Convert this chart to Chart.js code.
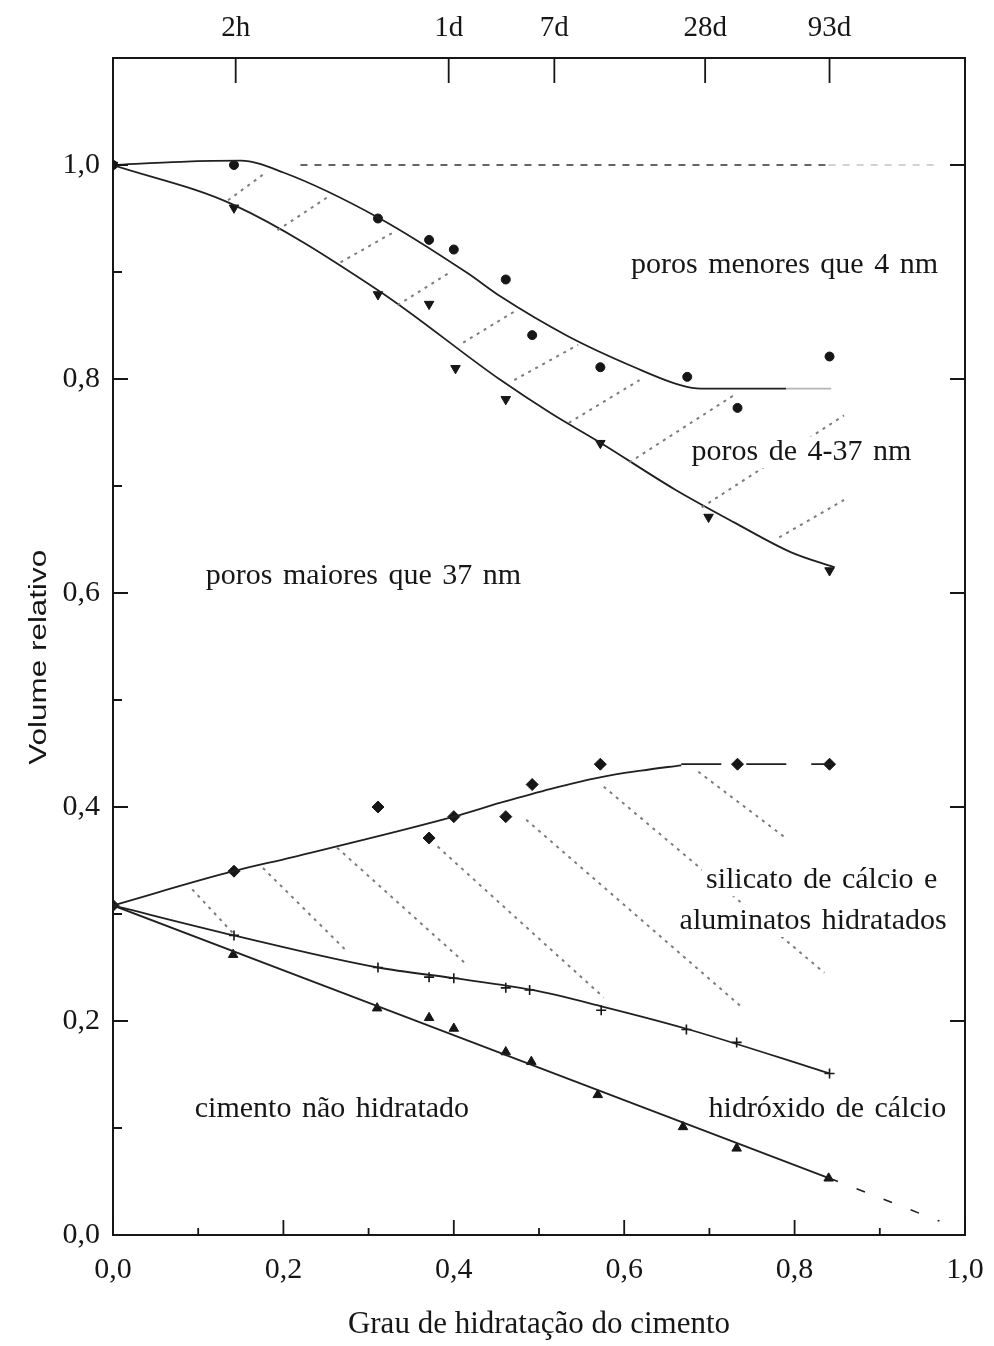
<!DOCTYPE html>
<html>
<head>
<meta charset="utf-8">
<style>
  html, body { margin: 0; padding: 0; background: #ffffff; }
  #wrap { width: 994px; height: 1346px; }
</style>
<script src="https://cdn.jsdelivr.net/npm/chart.js@4.4.1/dist/chart.umd.min.js"></script>
</head>
<body>
<div id="wrap"><canvas id="chart" width="994" height="1346"></canvas></div>
<script>
// ---- measured volume fractions vs. degree of hydration ----
const smallPoreX = [0, 0.142, 0.311, 0.371, 0.400, 0.461, 0.492, 0.572, 0.674, 0.733, 0.841];
const smallPoreY = [1.0, 1.0, 0.950, 0.930, 0.921, 0.893, 0.841, 0.811, 0.802, 0.773, 0.821];

const largePoreX = [0, 0.142, 0.311, 0.371, 0.402, 0.461, 0.572, 0.699, 0.841];
const largePoreY = [1.0, 0.960, 0.879, 0.870, 0.810, 0.781, 0.740, 0.671, 0.621];

const silicateX = [0, 0.142, 0.311, 0.371, 0.400, 0.461, 0.492, 0.572, 0.733, 0.841];
const silicateY = [0.308, 0.340, 0.400, 0.371, 0.391, 0.391, 0.421, 0.440, 0.440, 0.440];

const hydroxideX = [0.142, 0.311, 0.371, 0.400, 0.461, 0.489, 0.573, 0.673, 0.732, 0.841];
const hydroxideY = [0.280, 0.250, 0.241, 0.240, 0.231, 0.229, 0.210, 0.192, 0.180, 0.151];

const cementX = [0.141, 0.310, 0.371, 0.400, 0.461, 0.491, 0.569, 0.669, 0.732, 0.840];
const cementY = [0.262, 0.212, 0.203, 0.193, 0.171, 0.162, 0.131, 0.101, 0.081, 0.053];

// ---- fitted boundary curves ----
const smallPoreFitX = [0, 0.08, 0.15, 0.20, 0.311, 0.416, 0.455, 0.534, 0.612, 0.667, 0.69, 0.79];
const smallPoreFitY = [1.0, 1.003, 1.004, 0.993, 0.951, 0.899, 0.877, 0.840, 0.811, 0.794, 0.791, 0.791];
const smallPoreTailX = [0.79, 0.843];
const smallPoreTailY = [0.791, 0.791];

const largePoreFitX = [0, 0.141, 0.311, 0.455, 0.514, 0.573, 0.659, 0.729, 0.796, 0.847];
const largePoreFitY = [1.0, 0.963, 0.883, 0.799, 0.768, 0.740, 0.697, 0.666, 0.638, 0.624];

const totalLineX = [0.22, 0.84];
const totalLineY = [1.0, 1.0];
const totalTailX = [0.84, 0.97];
const totalTailY = [1.0, 1.0];

const silicateFitX = [0, 0.141, 0.21, 0.40, 0.455, 0.514, 0.573, 0.62, 0.667];
const silicateFitY = [0.308, 0.340, 0.353, 0.391, 0.404, 0.417, 0.428, 0.434, 0.439];
const silicatePlateauX = [0.667, 0.843];
const silicatePlateauY = [0.440, 0.440];

const hydroxideFitX = [0, 0.142, 0.311, 0.40, 0.492, 0.572, 0.672, 0.841];
const hydroxideFitY = [0.308, 0.280, 0.250, 0.240, 0.229, 0.214, 0.193, 0.151];

const cementFitX = [0, 0.841];
const cementFitY = [0.308, 0.053];
const cementTailX = [0.841, 0.97];
const cementTailY = [0.053, 0.013];

// ---- hatching between bounding curves: [x1, y1, x2, y2] ----
const poreHatch = [
  [0.135, 0.967, 0.176, 0.991],
  [0.193, 0.939, 0.252, 0.970],
  [0.267, 0.909, 0.329, 0.937],
  [0.334, 0.869, 0.394, 0.899],
  [0.411, 0.834, 0.471, 0.863],
  [0.471, 0.799, 0.546, 0.832],
  [0.535, 0.759, 0.618, 0.799],
  [0.606, 0.722, 0.729, 0.785],
  [0.691, 0.680, 0.858, 0.766],
  [0.782, 0.652, 0.858, 0.687]
];
const solidHatch = [
  [0.093, 0.323, 0.141, 0.282],
  [0.176, 0.343, 0.276, 0.264],
  [0.263, 0.362, 0.412, 0.255],
  [0.381, 0.363, 0.576, 0.222],
  [0.485, 0.388, 0.738, 0.213],
  [0.576, 0.419, 0.835, 0.245],
  [0.687, 0.433, 0.788, 0.372]
];

// ---- axes ----
const xTickValues = [0, 0.2, 0.4, 0.6, 0.8, 1.0];
const xMinorTicks = [0.1, 0.3, 0.5, 0.7, 0.9];
const yTickValues = [0, 0.2, 0.4, 0.6, 0.8, 1.0];
const yMinorTicks = [0.1, 0.3, 0.5, 0.7, 0.9];
const ageTickValues = [0.144, 0.394, 0.518, 0.695, 0.841];
const ageTickLabels = ['2h', '1d', '7d', '28d', '93d'];

const SERIF = '"Liberation Serif", "Times New Roman", Times, serif';
const INK = '#161616';

function pts(xs, ys) { return xs.map((x, i) => ({ x: x, y: ys[i] })); }
function decimalComma(v) { return v.toFixed(1).replace('.', ','); }

function curve(xs, ys, extra) {
  return Object.assign({
    data: pts(xs, ys), showLine: true, pointRadius: 0, borderColor: '#202020',
    borderWidth: 1.8, cubicInterpolationMode: 'monotone', fill: false
  }, extra || {});
}
function markers(xs, ys, style, radius, extra) {
  return Object.assign({
    data: pts(xs, ys), showLine: false, pointStyle: style, pointRadius: radius,
    backgroundColor: INK, borderColor: INK, borderWidth: 1
  }, extra || {});
}
function hatchSets(list) {
  return list.map(s => ({
    data: [{ x: s[0], y: s[1] }, { x: s[2], y: s[3] }], showLine: true, pointRadius: 0,
    borderColor: '#7c7c7c', borderWidth: 2, borderDash: [3, 5], fill: false
  }));
}

const datasets = [].concat(
  hatchSets(poreHatch),
  hatchSets(solidHatch),
  [
    curve(totalLineX, totalLineY, { borderDash: [7, 7], borderWidth: 1.6, borderColor: '#333' }),
    curve(totalTailX, totalTailY, { borderDash: [7, 7], borderWidth: 1.4, borderColor: '#c4c4c4' }),
    curve(smallPoreFitX, smallPoreFitY),
    curve(smallPoreTailX, smallPoreTailY, { borderColor: '#b5b5b5' }),
    curve(largePoreFitX, largePoreFitY),
    curve(silicateFitX, silicateFitY),
    curve(silicatePlateauX, silicatePlateauY, { borderDash: [40, 25] }),
    curve(hydroxideFitX, hydroxideFitY),
    curve(cementFitX, cementFitY),
    curve(cementTailX, cementTailY, { borderDash: [9, 20], borderWidth: 1.6 }),
    markers(smallPoreX, smallPoreY, 'circle', 4.5),
    markers(largePoreX, largePoreY, 'triangle', 5.5, { rotation: 180 }),
    markers(silicateX, silicateY, 'rectRot', 6),
    markers(hydroxideX, hydroxideY, 'cross', 5, { borderWidth: 1.6 }),
    markers(cementX, cementY, 'triangle', 5.5)
  ]
);

// frame, inward tick marks, region names and rotated y title
const decorations = {
  id: 'decorations',
  afterDatasetsDraw(chart) {
    const { ctx, chartArea: a, scales } = chart;
    const sx = scales.x, sy = scales.y;
    ctx.save();
    ctx.strokeStyle = INK;
    ctx.lineWidth = 2;
    ctx.strokeRect(a.left, a.top, a.right - a.left, a.bottom - a.top);

    ctx.lineWidth = 1.8;
    ctx.beginPath();
    yTickValues.forEach(v => {
      const p = sy.getPixelForValue(v);
      ctx.moveTo(a.left, p); ctx.lineTo(a.left + 15, p);
      ctx.moveTo(a.right, p); ctx.lineTo(a.right - 15, p);
    });
    yMinorTicks.forEach(v => {
      const p = sy.getPixelForValue(v);
      ctx.moveTo(a.left, p); ctx.lineTo(a.left + 9, p);
    });
    xTickValues.forEach(v => {
      const p = sx.getPixelForValue(v);
      ctx.moveTo(p, a.bottom); ctx.lineTo(p, a.bottom - 15);
    });
    xMinorTicks.forEach(v => {
      const p = sx.getPixelForValue(v);
      ctx.moveTo(p, a.bottom); ctx.lineTo(p, a.bottom - 7);
    });
    ageTickValues.forEach(v => {
      const p = scales.xTop.getPixelForValue(v);
      ctx.moveTo(p, a.top); ctx.lineTo(p, a.top + 25);
    });
    ctx.stroke();

    const labels = [
      { text: 'poros menores que 4 nm', x: 0.608, y: 0.899 },
      { text: 'poros de 4-37 nm', x: 0.679, y: 0.724 },
      { text: 'poros maiores que 37 nm', x: 0.109, y: 0.608 },
      { text: 'silicato de cálcio e', x: 0.696, y: 0.324 },
      { text: 'aluminatos hidratados', x: 0.665, y: 0.286 },
      { text: 'cimento não hidratado', x: 0.096, y: 0.110 },
      { text: 'hidróxido de cálcio', x: 0.699, y: 0.110 }
    ];
    ctx.font = '30px ' + SERIF;
    ctx.textAlign = 'left';
    ctx.textBaseline = 'alphabetic';
    if ('wordSpacing' in ctx) ctx.wordSpacing = '3px';
    labels.forEach(l => {
      const px = sx.getPixelForValue(l.x), py = sy.getPixelForValue(l.y);
      const w = ctx.measureText(l.text).width;
      ctx.fillStyle = '#ffffff';
      ctx.fillRect(px - 4, py - 24, w + 8, 32);
      ctx.fillStyle = INK;
      ctx.fillText(l.text, px, py);
    });
    if ('wordSpacing' in ctx) ctx.wordSpacing = '0px';

    // y axis title, condensed along its length
    ctx.font = '23px "Liberation Sans Narrow", "Liberation Sans", Arial, sans-serif';
    const title = 'Volume relativo';
    const tw = ctx.measureText(title).width;
    ctx.translate(40, sy.getPixelForValue(0.54));
    ctx.rotate(-Math.PI / 2);
    ctx.scale(215 / tw, 1);
    ctx.textAlign = 'center';
    ctx.textBaseline = 'middle';
    ctx.fillStyle = INK;
    ctx.fillText(title, 0, 0);
    ctx.restore();
  }
};

// keep the plot box fixed: edge tick labels may overhang the margins
function fixedHorizontal(h) {
  return s => { s.height = h; s.paddingLeft = 0; s.paddingRight = 0; };
}

new Chart(document.getElementById('chart'), {
  type: 'scatter',
  data: { datasets: datasets },
  options: {
    responsive: false,
    animation: false,
    layout: { padding: { left: 0, right: 29, top: 0, bottom: 0 } },
    plugins: { legend: { display: false }, tooltip: { enabled: false } },
    elements: { line: { tension: 0 } },
    scales: {
      x: {
        type: 'linear', position: 'bottom', min: 0, max: 1,
        grid: { display: false, drawTicks: false },
        border: { display: false },
        afterBuildTicks: s => { s.ticks = xTickValues.map(v => ({ value: v })); },
        afterFit: fixedHorizontal(111),
        ticks: {
          autoSkip: false, maxRotation: 0, padding: 17, color: INK,
          font: { family: SERIF, size: 30 },
          callback: v => decimalComma(v)
        },
        title: {
          display: true, text: 'Grau de hidratação do cimento', color: INK,
          font: { family: SERIF, size: 31 }, padding: { top: 0, bottom: 3 }
        }
      },
      xTop: {
        type: 'linear', position: 'top', min: 0, max: 1,
        grid: { display: false, drawTicks: false },
        border: { display: false },
        afterBuildTicks: s => { s.ticks = ageTickValues.map(v => ({ value: v })); },
        afterFit: fixedHorizontal(58),
        ticks: {
          autoSkip: false, maxRotation: 0, padding: 12, color: INK,
          font: { family: SERIF, size: 29 },
          callback: (v, i) => ageTickLabels[i]
        }
      },
      y: {
        type: 'linear', position: 'left', min: 0, max: 1.1,
        grid: { display: false, drawTicks: false },
        border: { display: false },
        afterBuildTicks: s => { s.ticks = yTickValues.map(v => ({ value: v })); },
        afterFit: s => { s.width = 113; s.paddingTop = 0; s.paddingBottom = 0; },
        ticks: {
          padding: 13, color: INK,
          font: { family: SERIF, size: 30 },
          callback: v => decimalComma(v)
        }
      }
    }
  },
  plugins: [decorations]
});
</script>
</body>
</html>
